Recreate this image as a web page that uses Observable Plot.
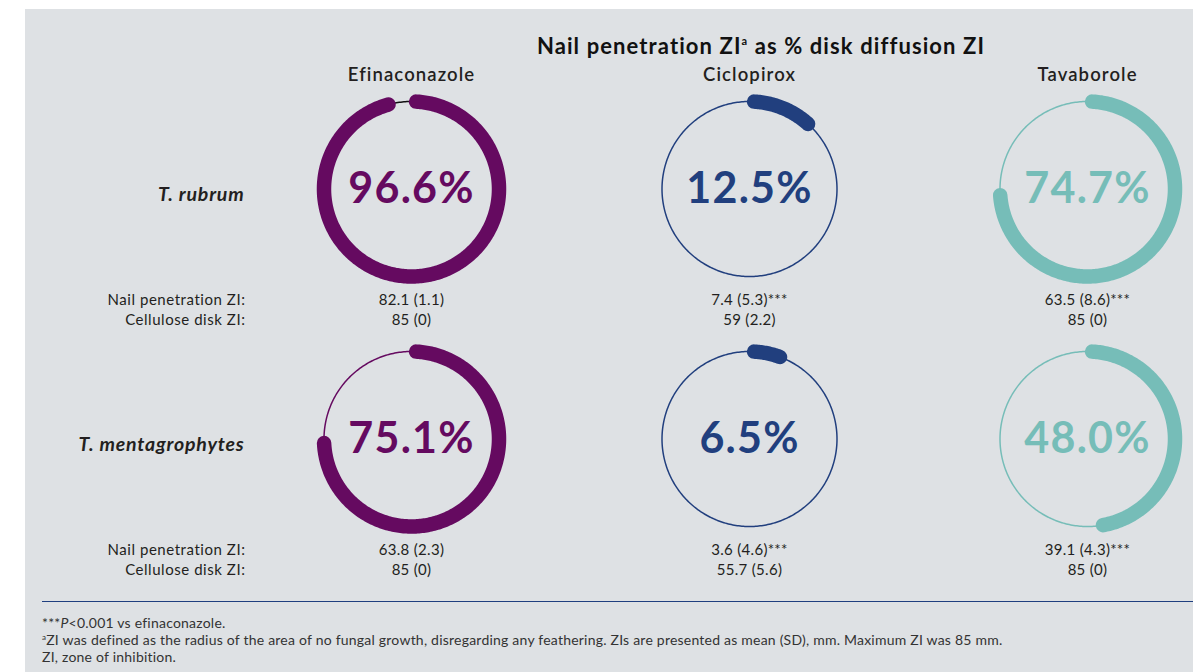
<!DOCTYPE html>
<html><head><meta charset="utf-8">
<script src="https://cdn.jsdelivr.net/npm/d3@7"></script>
<script src="https://cdn.jsdelivr.net/npm/@observablehq/plot@0.6"></script>
<style>
html,body{margin:0;padding:0;background:#fff;width:1193px;height:672px;overflow:hidden;font-family:Lato, sans-serif;color:#231f20}
#bg{position:absolute;left:25px;top:9px;right:0;bottom:0;background:#dee1e4}
#title{position:absolute;left:411px;width:700px;top:32px;text-align:center;font-weight:700;font-size:22px;letter-spacing:1.1px;color:#111}
#title sup{font-size:11px;vertical-align:9px;line-height:0}
#chart{position:absolute;left:0;top:50px}
#chart svg{max-width:none !important;background:transparent !important;overflow:visible}
#rule{position:absolute;left:42px;right:0;top:601px;height:0;border-top:1.5px solid #1f3f7f}
#notes{position:absolute;left:42px;top:614px;font-size:14px;letter-spacing:0.22px;line-height:17px;color:#333;white-space:nowrap}
#notes sup{font-size:8px;vertical-align:5px;line-height:0}
</style></head>
<body>
<div id="bg"></div>
<div id="title">Nail penetration ZI<sup>a</sup> as % disk diffusion ZI</div>
<div id="chart"></div>
<div id="rule"></div>
<div id="notes">***<i>P</i>&lt;0.001 vs efinaconazole.<br><sup>a</sup>ZI was defined as the radius of the area of no fungal growth, disregarding any feathering. ZIs are presented as mean (SD), mm. Maximum ZI was 85 mm.<br>ZI, zone of inhibition.</div>
<script>
const drugs = ["Efinaconazole", "Ciclopirox", "Tavaborole"];
const species = ["T. rubrum", "T. mentagrophytes"];
const pctRubrum = [96.6, 12.5, 74.7];
const pctMentag = [75.1, 6.5, 48.0];
const nailRubrum = ["82.1 (1.1)", "7.4 (5.3)***", "63.5 (8.6)***"];
const diskRubrum = ["85 (0)", "59 (2.2)", "85 (0)"];
const nailMentag = ["63.8 (2.3)", "3.6 (4.6)***", "39.1 (4.3)***"];
const diskMentag = ["85 (0)", "55.7 (5.6)", "85 (0)"];
const rowLabels = ["Nail penetration ZI:", "Cellulose disk ZI:"];

const drugColors = ["#650a60", "#213f7e", "#76bdb8"];
const trackColors = [["#111111", "#213f7e", "#76bdb8"], ["#650a60", "#213f7e", "#76bdb8"]];

const pcts = [pctRubrum, pctMentag], nails = [nailRubrum, nailMentag], disks = [diskRubrum, diskMentag];
const cells = species.flatMap((sp, si) => drugs.map((dr, di) => ({
  species: sp, drug: dr, si, di,
  pct: pcts[si][di], nail: nails[si][di], disk: disks[si][di],
  color: drugColors[di], track: trackColors[si][di]
})));

const R = 87.5;
const trim = 3 * Math.PI / 180; // round caps sit mostly inside the arc's span
const pt = (c, a) => ({...c, x: R * Math.sin(a), y: -R * Math.cos(a)});
const trackPts = cells.flatMap(c => d3.range(361).map(i => pt(c, i / 360 * 2 * Math.PI)));
const arcPts = cells.flatMap(c => {
  const a0 = trim, a1 = (c.pct / 100) * 2 * Math.PI - trim;
  const n = Math.max(2, Math.round(c.pct * 3.6));
  return d3.range(n + 1).map(i => pt(c, a0 + (i / n) * (a1 - a0)));
});

const W = 338, H = 250;
const chart = Plot.plot({
  width: 242 + 3 * W, height: 34 + 2 * H,
  marginLeft: 242, marginRight: 0, marginTop: 34, marginBottom: 0,
  style: {fontFamily: "Lato, sans-serif", background: "transparent", maxWidth: "none", overflow: "visible"},
  fx: {domain: drugs, padding: 0, axis: null},
  fy: {domain: species, padding: 0, axis: null},
  x: {domain: [-W / 2, W / 2], axis: null},
  y: {domain: [-104.5, H - 104.5], reverse: true, axis: null},
  color: {type: "identity"},
  marks: [
    Plot.line(trackPts, {fx: "drug", fy: "species", x: "x", y: "y", stroke: "track", strokeWidth: 1.5}),
    Plot.line(arcPts, {fx: "drug", fy: "species", x: "x", y: "y", stroke: "color", strokeWidth: 14.5, strokeLinecap: "round"}),
    Plot.text(cells, {fx: "drug", fy: "species", x: 0, y: 0, text: d => d.pct.toFixed(1) + "%", fill: "color", fontSize: 43, fontWeight: 700}),
    Plot.text(cells, {fx: "drug", fy: "species", x: 0, y: 111.5, text: "nail", fill: "#231f20", fontSize: 15}),
    Plot.text(cells, {fx: "drug", fy: "species", x: 0, y: 131.5, text: "disk", fill: "#231f20", fontSize: 15}),
    Plot.text(cells.filter(d => d.si === 0), {fx: "drug", fy: "species", frameAnchor: "top", dy: -17, text: "drug", fill: "#231f20", fontSize: 18.5, fontWeight: 600}),
    Plot.text(cells.filter(d => d.di === 0), {fx: "drug", fy: "species", frameAnchor: "left", y: 5.5, dx: 2, textAnchor: "end", text: "species", fill: "#231f20", fontSize: 19.5, fontWeight: 700, fontStyle: "italic"}),
    Plot.text(cells.filter(d => d.di === 0), {fx: "drug", fy: "species", frameAnchor: "left", y: 111.5, dx: 3, textAnchor: "end", text: () => rowLabels[0], fill: "#231f20", fontSize: 15}),
    Plot.text(cells.filter(d => d.di === 0), {fx: "drug", fy: "species", frameAnchor: "left", y: 131.5, dx: 3, textAnchor: "end", text: () => rowLabels[1], fill: "#231f20", fontSize: 15})
  ]
});
// letter-spacing per text mark, in mark order: pct, nail, disk, header, species, label1, label2
const spacing = ["1.2px", "0.3px", "0.3px", "1.1px", "0.8px", "0.55px", "0.55px"];
d3.select(chart).selectAll("g[aria-label='text']").each(function(_, i) {
  d3.select(this).selectAll("text").style("letter-spacing", spacing[i]);
});
document.getElementById("chart").appendChild(chart);
</script>
</body></html>
